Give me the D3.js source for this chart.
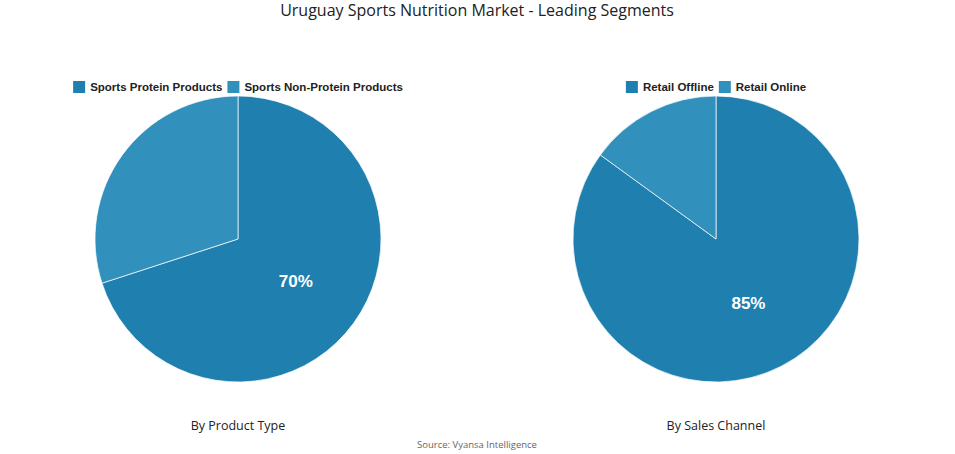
<!DOCTYPE html>
<html><head><meta charset="utf-8">
<script src="https://cdn.jsdelivr.net/npm/d3@7"></script>
<style>body{margin:0;background:#fff}</style></head>
<body><svg id="c" width="955" height="454"></svg>
<script>
const productLabels = ["Sports Protein Products", "Sports Non-Protein Products"];
const productValues = [70, 30];
const channelLabels = ["Retail Offline", "Retail Online"];
const channelValues = [85, 15];
const colors = ["#1f80b0", "#3290bc"];

const svg = d3.select("#c");
svg.append("text").attr("x", 477).attr("y", 16).attr("text-anchor", "middle")
  .attr("font-family", "Open Sans, sans-serif").attr("font-size", 16).attr("fill", "#222")
  .text("Uruguay Sports Nutrition Market - Leading Segments");
svg.append("text").attr("x", 477).attr("y", 448).attr("text-anchor", "middle")
  .attr("font-family", "Open Sans, sans-serif").attr("font-size", 9.5).attr("fill", "#666")
  .text("Source: Vyansa Intelligence");

function drawPie(cx, labels, values, caption) {
  const cy = 239, r = 143;
  const g = svg.append("g").attr("transform", `translate(${cx},${cy})`);
  const pie = d3.pie().sort(null)(values);
  const arc = d3.arc().innerRadius(0).outerRadius(r);
  g.selectAll("path").data(pie).enter().append("path")
    .attr("d", arc).attr("fill", (d, i) => colors[i])
    .attr("stroke", "#fff").attr("stroke-width", 0.7);
  const la = d3.arc().innerRadius(r * 0.5).outerRadius(r * 0.5);
  const c = la.centroid(pie[0]);
  g.append("text").attr("x", c[0]).attr("y", c[1]).attr("dy", "0.35em")
    .attr("text-anchor", "middle").attr("font-family", "Liberation Sans, Arial, sans-serif")
    .attr("font-weight", "bold").attr("font-size", 17).attr("fill", "#fff")
    .text(values[0] + "%");
  svg.append("text").attr("x", cx).attr("y", 430).attr("text-anchor", "middle")
    .attr("font-family", "Open Sans, sans-serif").attr("font-size", 12.5).attr("fill", "#222")
    .text(caption);
  const lg = svg.append("g");
  const items = [];
  let x = 0;
  labels.forEach((l, i) => {
    const t = lg.append("text").attr("y", 91).attr("font-family", "Liberation Sans, Arial, sans-serif")
      .attr("font-weight", "bold").attr("font-size", 11.5).attr("fill", "#222").text(l);
    const w = t.node().getComputedTextLength();
    items.push({t, x, i});
    x += 17 + w + 5;
  });
  const total = x - 5;
  const start = cx - total / 2;
  items.forEach(it => {
    lg.append("rect").attr("x", start + it.x).attr("y", 81).attr("width", 12).attr("height", 12).attr("fill", colors[it.i]);
    it.t.attr("x", start + it.x + 17);
  });
}
drawPie(238, productLabels, productValues, "By Product Type");
drawPie(716, channelLabels, channelValues, "By Sales Channel");
</script></body></html>
